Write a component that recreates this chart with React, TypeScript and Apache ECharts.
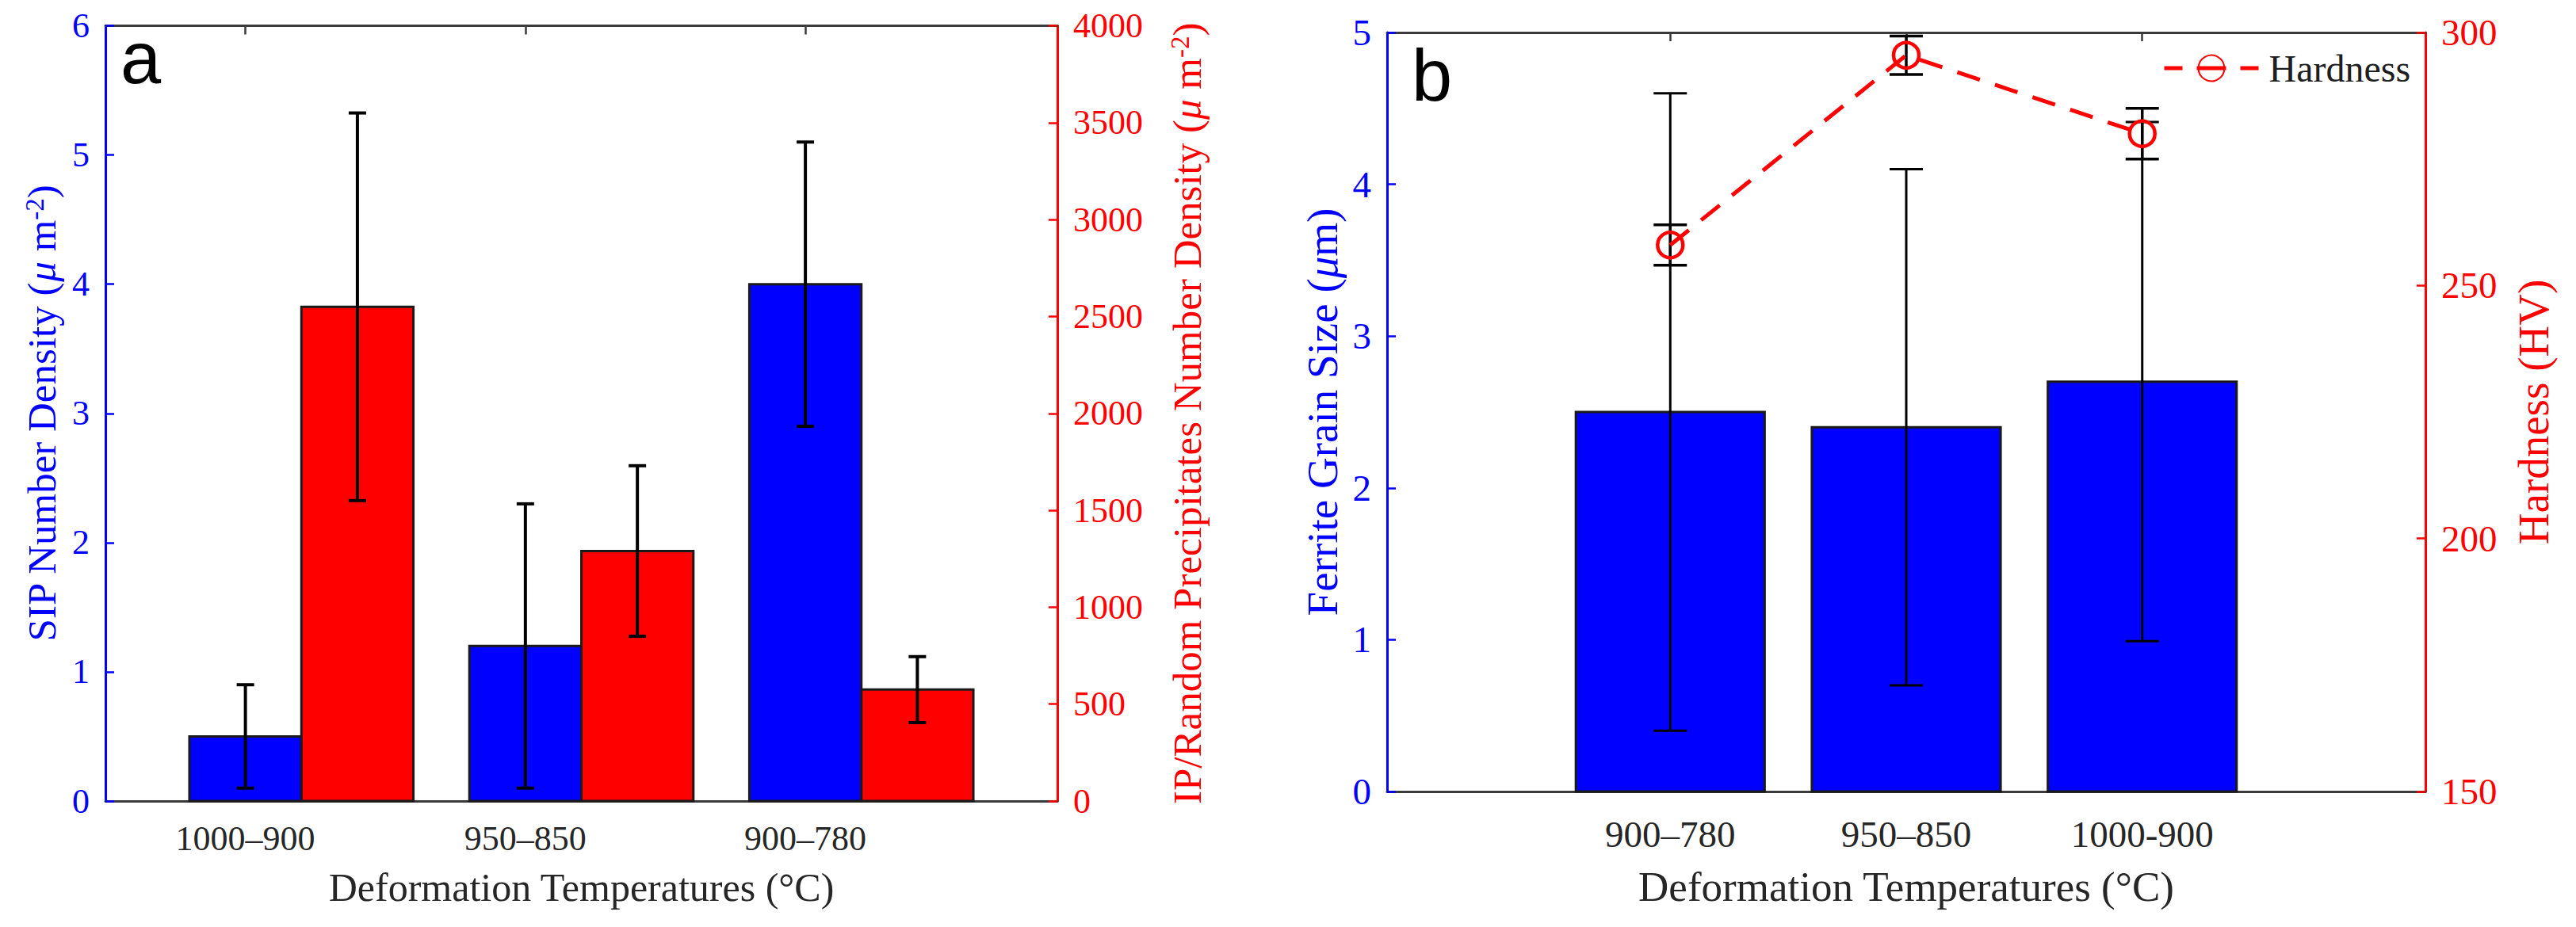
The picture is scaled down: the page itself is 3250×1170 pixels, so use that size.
import React, { useEffect, useRef } from "react";
import * as echarts from "echarts";

// ---------- Data ----------
const categoriesA = ["1000–900", "950–850", "900–780"];
const sipDensity = [0.5, 1.2, 4.0];
const sipError = [0.4, 1.1, 1.1];
const ipDensity = [2550, 1290, 575];
const ipError = [1000, 440, 170];

const categoriesB = ["900–780", "950–850", "1000-900"];
const grainSize = [2.5, 2.4, 2.7];
const grainError = [2.1, 1.7, 1.71];
const hardness = [258, 295.5, 280];
const hardnessError = [4, 3.8, 5];

// ---------- Styles ----------
const SERIF = '"Liberation Serif", "Times New Roman", Times, serif';
const SANS = '"Liberation Sans", Arial, sans-serif';
const BLUE = "#0000ff";
const RED = "#ff0000";
const DARK = "#262626";
const AXIS_GRAY = "#3a3a3a";

function barSeries(
  name: string,
  xAxisIndex: number,
  yAxisIndex: number,
  values: number[],
  errors: number[],
  offset: number,
  halfWidth: number,
  fill: string,
  capHalf: number,
  errWidth: number
) {
  return {
    type: "custom",
    name,
    xAxisIndex,
    yAxisIndex,
    z: 3,
    data: values.map((v, i) => [i + 1 + offset, v, v - errors[i], v + errors[i]]),
    encode: { x: 0, y: 1 },
    renderItem: (_params: any, api: any) => {
      const x = api.value(0);
      const v = api.value(1);
      const lo = api.value(2);
      const hi = api.value(3);
      const a = api.coord([x - halfWidth, v]);
      const b = api.coord([x + halfWidth, 0]);
      const t = api.coord([x, hi]);
      const bt = api.coord([x, lo]);
      const es = { stroke: "#000", lineWidth: errWidth };
      return {
        type: "group",
        children: [
          {
            type: "rect",
            shape: { x: a[0], y: a[1], width: b[0] - a[0], height: b[1] - a[1] },
            style: { fill, stroke: "#1a1a1a", lineWidth: 3 },
          },
          { type: "line", shape: { x1: t[0], y1: t[1], x2: bt[0], y2: bt[1] }, style: es },
          { type: "line", shape: { x1: t[0] - capHalf, y1: t[1], x2: t[0] + capHalf, y2: t[1] }, style: es },
          { type: "line", shape: { x1: bt[0] - capHalf, y1: bt[1], x2: bt[0] + capHalf, y2: bt[1] }, style: es },
        ],
      };
    },
  };
}

function errorSeries(
  name: string,
  xAxisIndex: number,
  yAxisIndex: number,
  values: number[],
  errors: number[],
  capHalf: number,
  errWidth: number
) {
  return {
    type: "custom",
    name,
    xAxisIndex,
    yAxisIndex,
    z: 4,
    data: values.map((v, i) => [i + 1, v, v - errors[i], v + errors[i]]),
    encode: { x: 0, y: 1 },
    renderItem: (_params: any, api: any) => {
      const x = api.value(0);
      const t = api.coord([x, api.value(3)]);
      const bt = api.coord([x, api.value(2)]);
      const es = { stroke: "#000", lineWidth: errWidth };
      return {
        type: "group",
        children: [
          { type: "line", shape: { x1: t[0], y1: t[1], x2: bt[0], y2: bt[1] }, style: es },
          { type: "line", shape: { x1: t[0] - capHalf, y1: t[1], x2: t[0] + capHalf, y2: t[1] }, style: es },
          { type: "line", shape: { x1: bt[0] - capHalf, y1: bt[1], x2: bt[0] + capHalf, y2: bt[1] }, style: es },
        ],
      };
    },
  };
}

function xAxes(gridIndex: number, min: number, max: number, cats: string[], fontSize: number, margin: number, nameSize: number, nameGap: number) {
  const ticks = cats.map((_, i) => i + 1);
  const line = { onZero: false, lineStyle: { color: AXIS_GRAY, width: 3 } };
  return [
    {
      type: "value",
      gridIndex,
      position: "bottom",
      min,
      max,
      axisLine: line,
      axisTick: { inside: true, length: 11, customValues: ticks, lineStyle: { color: AXIS_GRAY, width: 2.5 } },
      axisLabel: {
        customValues: ticks,
        formatter: (v: number) => cats[Math.round(v) - 1] ?? "",
        color: DARK,
        fontFamily: SERIF,
        fontSize,
        margin,
      },
      splitLine: { show: false },
      name: "Deformation Temperatures (°C)",
      nameLocation: "middle",
      nameGap,
      nameTextStyle: { color: DARK, fontFamily: SERIF, fontSize: nameSize },
    },
    {
      type: "value",
      gridIndex,
      position: "top",
      min,
      max,
      axisLine: line,
      axisTick: { inside: true, length: 11, customValues: ticks, lineStyle: { color: AXIS_GRAY, width: 2.5 } },
      axisLabel: { show: false },
      splitLine: { show: false },
    },
  ];
}

function richName(color: string, size: number) {
  return {
    color,
    fontFamily: SERIF,
    fontSize: size,
    rich: {
      t: { color, fontFamily: SERIF, fontSize: size },
      i: { color, fontFamily: SERIF, fontSize: size, fontStyle: "italic" },
      s: { color, fontFamily: SERIF, fontSize: Math.round(size * 0.65), verticalAlign: "top" },
    },
  };
}

function yAxis(
  gridIndex: number,
  position: string,
  min: number,
  max: number,
  interval: number,
  color: string,
  fontSize: number,
  name: string,
  nameGap: number,
  nameSize: number
) {
  return {
    type: "value",
    gridIndex,
    position,
    min,
    max,
    interval,
    axisLine: { show: true, onZero: false, lineStyle: { color, width: 3 } },
    axisTick: { show: true, inside: true, length: 11, lineStyle: { color, width: 2.5 } },
    axisLabel: {
      color,
      fontFamily: SERIF,
      fontSize,
      margin: 20,
      formatter: (v: number) => String(v),
    },
    splitLine: { show: false },
    name,
    nameLocation: "middle",
    nameRotate: 90,
    nameGap,
    nameTextStyle: richName(color, nameSize),
  };
}

export default function App() {
  const ref = useRef<HTMLDivElement>(null);

  useEffect(() => {
    if (!ref.current) return;
    const chart = echarts.init(ref.current, undefined, { renderer: "svg" });

    const option: any = {
      animation: false,
      backgroundColor: "#ffffff",
      grid: [
        { left: 133, top: 32.5, width: 1201, height: 978.5 },
        { left: 1750, top: 41, width: 1310, height: 958 },
      ],
      legend: {
        data: ["Hardness"],
        left: 2728,
        top: 62,
        padding: 0,
        itemWidth: 119,
        itemHeight: 41,
        lineStyle: { type: [23, 18, 37, 18], width: 5 },
        textStyle: { fontFamily: SERIF, fontSize: 48, color: "#1e1e1e", padding: [0, 0, 0, 8] },
      },
      xAxis: [
        ...xAxes(0, 0.5, 3.9, categoriesA, 44, 25, 50, 84),
        ...xAxes(1, -0.2, 4.2, categoriesB, 47, 30, 53, 93),
      ],
      yAxis: [
        yAxis(0, "left", 0, 6, 1, BLUE, 44, "{t|SIP Number Density (}{i|μ}{t| m}{s|-2}{t|)}", 55, 51),
        yAxis(0, "right", 0, 4000, 500, RED, 44, "{t|IP/Random Precipitates Number Density (}{i|μ}{t| m}{s|-2}{t|)}", 138, 51),
        yAxis(1, "left", 0, 5, 1, BLUE, 47, "{t|Ferrite Grain Size (}{i|μ}{t|m)}", 54, 55),
        yAxis(1, "right", 150, 300, 50, RED, 47, "{t|Hardness (HV)}", 109, 55),
      ],
      series: [
        barSeries("SIP", 0, 0, sipDensity, sipError, 0, 0.2, BLUE, 11, 4),
        barSeries("IP", 0, 1, ipDensity, ipError, 0.4, 0.2, RED, 11, 4),
        barSeries("Grain", 2, 2, grainSize, grainError, 0, 0.4, BLUE, 21, 3),
        errorSeries("HardnessErr", 2, 3, hardness, hardnessError, 21, 3.5),
        {
          type: "line",
          name: "Hardness",
          xAxisIndex: 2,
          yAxisIndex: 3,
          z: 5,
          data: hardness.map((h, i) => [i + 1, h]),
          symbol: "circle",
          symbolSize: 32,
          lineStyle: { color: RED, width: 5, type: [30, 20] },
          itemStyle: { color: "rgba(255,255,255,0)", borderColor: RED, borderWidth: 4.5 },
        },
      ],
      graphic: [
        {
          type: "text",
          x: 152,
          y: 73,
          style: {
            text: "a",
            fill: "#000",
            fontFamily: SANS,
            fontSize: 92,
            align: "left",
            verticalAlign: "middle",
            textAlign: "left",
            textVerticalAlign: "middle",
          },
        },
        {
          type: "text",
          x: 1781,
          y: 95,
          style: {
            text: "b",
            fill: "#000",
            fontFamily: SANS,
            fontSize: 92,
            align: "left",
            verticalAlign: "middle",
            textAlign: "left",
            textVerticalAlign: "middle",
          },
        },
      ],
    };

    chart.setOption(option);
    return () => chart.dispose();
  }, []);

  return (
    <div
      ref={ref}
      style={{ position: "absolute", left: 0, top: 0, width: 3250, height: 1170, background: "#fff" }}
    />
  );
}
